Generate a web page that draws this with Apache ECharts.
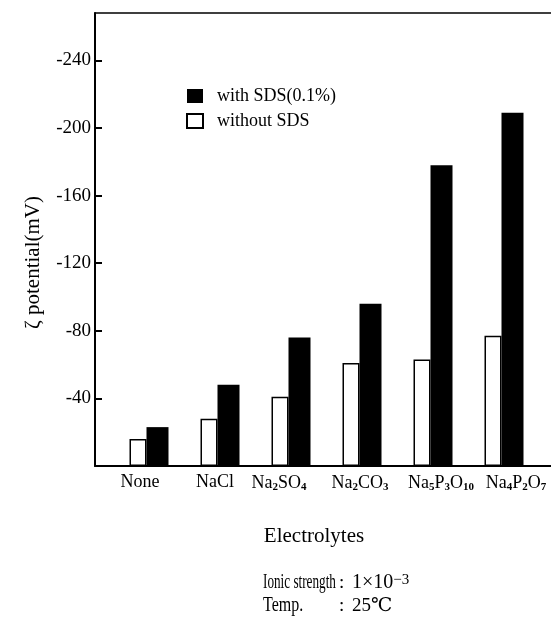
<!DOCTYPE html>
<html>
<head>
<meta charset="utf-8">
<script src="https://cdn.jsdelivr.net/npm/echarts@6/dist/echarts.min.js"></script>
<style>
    html, body { margin: 0; padding: 0; background: #fff; }
    #chart { width: 551px; height: 619px; }
</style>
</head>
<body>
<div id="chart"></div>
<script>
// electrolytes on the x axis (digits are drawn as subscripts)
var categories = ['None', 'NaCl', 'Na2SO4', 'Na2CO3', 'Na5P3O10', 'Na4P2O7'];
// zeta potential, mV
var withoutSDS = [-16, -28, -41, -61, -63, -77];
var withSDS = [-23, -48, -76, -96, -178, -209];
var yTicks = [-240, -200, -160, -120, -80, -40];
// small shifts of the x labels, px (the original labels sit side by side)
var labelNudge = [-9, -5, -12, -2, 8, 12];

var serif = '"Liberation Serif", "DejaVu Serif", serif';
var unit = 71;          // px per category
var xMin = -54 / unit;  // first group centre sits 54px right of the y axis
var xMax = xMin + 456 / unit;

var chart = echarts.init(document.getElementById('chart'));

function pairs(arr) {
    return arr.map(function (v, i) { return [i, v]; });
}

chart.setOption({
    animation: false,
    grid: {
        left: 95,
        top: 13,
        bottom: 153,
        right: 0
    },
    legend: {
        orient: 'vertical',
        left: 181,
        top: 82,
        icon: 'rect',
        itemWidth: 16,
        itemHeight: 14,
        itemGap: 7,
        data: ['with SDS(0.1%)', 'without SDS'],
        textStyle: {
            fontFamily: serif,
            fontSize: 18,
            color: '#000',
            padding: [0, 0, 0, 9]
        }
    },
    xAxis: [
        {
            type: 'value',
            min: xMin,
            max: xMax,
            splitLine: { show: false },
            axisTick: { show: false },
            axisLine: { lineStyle: { color: '#000', width: 2 } },
            axisLabel: {
                customValues: categories.map(function (c, i) { return i + labelNudge[i] / unit; }),
                margin: 7,
                color: '#000',
                fontFamily: serif,
                fontSize: 18,
                formatter: function (v) {
                    var name = categories[Math.round(v)];
                    return name.replace(/(\d+)/g, '{s|$1}');
                },
                rich: {
                    s: {
                        fontFamily: serif,
                        fontSize: 11,
                        fontWeight: 'bold',
                        color: '#000',
                        verticalAlign: 'bottom',
                        lineHeight: 20
                    }
                }
            }
        },
        {
            // top frame line only
            type: 'value',
            position: 'top',
            min: xMin,
            max: xMax,
            splitLine: { show: false },
            axisTick: { show: false },
            axisLabel: { show: false },
            axisLine: { show: true, onZero: false, lineStyle: { color: '#000', width: 1.5 } }
        }
    ],
    yAxis: {
        type: 'value',
        inverse: true,
        min: -268,
        max: 0,
        name: 'ζ potential(mV)',
        nameLocation: 'middle',
        nameRotate: 90,
        nameGap: 51,
        nameTextStyle: {
            fontFamily: serif,
            fontSize: 21,
            color: '#000',
            padding: [0, 46, 0, 0]
        },
        splitLine: { show: false },
        axisLine: { show: true, onZero: false, lineStyle: { color: '#000', width: 2 } },
        axisTick: {
            show: true,
            inside: true,
            length: 7,
            customValues: yTicks,
            lineStyle: { color: '#000', width: 2 }
        },
        axisLabel: {
            customValues: yTicks,
            margin: 4,
            color: '#000',
            fontFamily: serif,
            fontSize: 19
        }
    },
    series: [
        {
            name: 'without SDS',
            type: 'bar',
            barWidth: 17,
            barGap: '0%',
            data: pairs(withoutSDS),
            itemStyle: { color: '#fff', borderColor: '#000', borderWidth: 1.5 }
        },
        {
            name: 'with SDS(0.1%)',
            type: 'bar',
            barWidth: 22,
            barGap: '0%',
            data: pairs(withSDS),
            itemStyle: { color: '#000' }
        }
    ],
    graphic: [
        {
            type: 'text', x: 314, y: 536,
            style: { text: 'Electrolytes', fontFamily: serif, fontSize: 21, fill: '#000', align: 'center', verticalAlign: 'middle' }
        },
        {
            type: 'text', x: 263, y: 583, scaleX: 0.66,
            style: { text: 'Ionic strength', fontFamily: serif, fontSize: 20, fill: '#000', verticalAlign: 'middle' }
        },
        {
            type: 'text', x: 339, y: 583,
            style: { text: ':', fontFamily: serif, fontSize: 19, fill: '#000', verticalAlign: 'middle' }
        },
        {
            type: 'text', x: 352, y: 583,
            style: {
                text: '1×10{sup|−3}', fontFamily: serif, fontSize: 20, fill: '#000', verticalAlign: 'middle',
                rich: { sup: { fontFamily: serif, fontSize: 15, fill: '#000', verticalAlign: 'top' } }
            }
        },
        {
            type: 'text', x: 263, y: 606, scaleX: 0.8,
            style: { text: 'Temp.', fontFamily: serif, fontSize: 20, fill: '#000', verticalAlign: 'middle' }
        },
        {
            type: 'text', x: 339, y: 606,
            style: { text: ':', fontFamily: serif, fontSize: 19, fill: '#000', verticalAlign: 'middle' }
        },
        {
            type: 'text', x: 352, y: 606,
            style: { text: '25℃', fontFamily: serif, fontSize: 19, fill: '#000', verticalAlign: 'middle' }
        }
    ]
});
</script>
</body>
</html>
